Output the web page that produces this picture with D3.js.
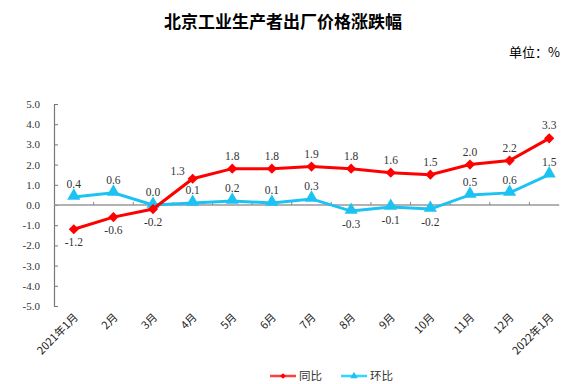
<!DOCTYPE html>
<html lang="zh">
<head>
	<meta charset="utf-8">
	<title>北京工业生产者出厂价格涨跌幅</title>
	<script src="https://d3js.org/d3.v7.min.js"></script>
	<style>
		body { margin: 0; background: #fff; }
		text { font-family: "Liberation Serif", "Noto Sans CJK SC", serif; }
		.cjk { font-family: "Noto Sans CJK SC", sans-serif; }
	</style>
</head>
<body>
<script>
	// chart data
	var months = ["2021年1月", "2月", "3月", "4月", "5月", "6月", "7月", "8月", "9月", "10月", "11月", "12月", "2022年1月"];
	var yoy = [-1.2, -0.6, -0.2, 1.3, 1.8, 1.8, 1.9, 1.8, 1.6, 1.5, 2.0, 2.2, 3.3];   // 同比
	var mom = [0.4, 0.6, 0.0, 0.1, 0.2, 0.1, 0.3, -0.3, -0.1, -0.2, 0.5, 0.6, 1.5];   // 环比
	var yTicks = [5, 4, 3, 2, 1, 0, -1, -2, -3, -4, -5];

	var w = 586, h = 384;
	var svg = d3.select("body").append("svg")
		.attr("width", w)
		.attr("height", h);

	// scales
	var x = d3.scaleBand()
		.domain(months)
		.range([54, 569]);
	var y = d3.scaleLinear()
		.domain([-5, 5])
		.range([306, 104]);
	function cx(d, i) { return x(months[i]) + x.bandwidth() / 2; }

	// title
	svg.append("text")
		.attr("class", "cjk")
		.attr("x", 283)
		.attr("y", 28)
		.attr("text-anchor", "middle")
		.attr("font-size", 17)
		.attr("font-weight", "bold")
		.attr("fill", "#000")
		.text("北京工业生产者出厂价格涨跌幅");

	svg.append("text")
		.attr("class", "cjk")
		.attr("x", 560)
		.attr("y", 57)
		.attr("text-anchor", "end")
		.attr("font-size", 13)
		.attr("fill", "#000")
		.text("单位：%");

	// y axis
	var yAxis = svg.append("g")
		.attr("transform", "translate(54,0)")
		.call(d3.axisRight(y).tickValues(yTicks).tickSize(4).tickFormat(""));
	yAxis.select(".domain").attr("stroke", "#777").attr("stroke-width", 1.2);
	yAxis.selectAll(".tick line").attr("stroke", "#777");

	svg.selectAll(".ylab")
		.data(yTicks)
		.enter()
		.append("text")
		.attr("class", "ylab")
		.attr("x", 40)
		.attr("y", function(d) { return y(d) + 4; })
		.attr("text-anchor", "end")
		.attr("font-size", 11)
		.attr("fill", "#333")
		.attr("font-family", "'Liberation Mono', monospace")
		.text(function(d) { return d3.format(".1f")(d).replace("−", "-"); });

	// zero line with category ticks
	var lastX = cx(null, months.length - 1) + 10;
	svg.append("line")
		.attr("x1", 54).attr("x2", lastX)
		.attr("y1", y(0)).attr("y2", y(0))
		.attr("stroke", "#999")
		.attr("stroke-width", 1.5);
	svg.selectAll(".xtick")
		.data(months.slice(1))
		.enter()
		.append("line")
		.attr("class", "xtick")
		.attr("x1", function(d) { return x(d); })
		.attr("x2", function(d) { return x(d); })
		.attr("y1", y(0) - 3)
		.attr("y2", y(0))
		.attr("stroke", "#888");

	// x labels
	svg.selectAll(".xlab")
		.data(months)
		.enter()
		.append("text")
		.attr("class", "xlab cjk")
		.attr("text-anchor", "end")
		.attr("font-size", 11)
		.attr("fill", "#222")
		.attr("transform", function(d, i) {
			return "translate(" + (cx(d, i) + 5) + ",318) rotate(-45)";
		})
		.text(function(d) { return d; });

	var line = d3.line()
		.x(function(d, i) { return cx(d, i); })
		.y(function(d) { return y(d); });

	var red = "#ff0000", blue = "#1cc3f2";

	// 环比 series
	svg.append("path")
		.datum(mom)
		.attr("d", line)
		.attr("fill", "none")
		.attr("stroke", blue)
		.attr("stroke-width", 3);
	svg.selectAll(".tri")
		.data(mom)
		.enter()
		.append("path")
		.attr("class", "tri")
		.attr("d", d3.symbol().type(d3.symbolTriangle).size(75))
		.attr("transform", function(d, i) { return "translate(" + cx(d, i) + "," + (y(d) - 1) + ")"; })
		.attr("fill", blue);

	// 同比 series
	svg.append("path")
		.datum(yoy)
		.attr("d", line)
		.attr("fill", "none")
		.attr("stroke", red)
		.attr("stroke-width", 3);
	svg.selectAll(".dia")
		.data(yoy)
		.enter()
		.append("path")
		.attr("class", "dia")
		.attr("d", d3.symbol().type(d3.symbolSquare).size(52))
		.attr("transform", function(d, i) { return "translate(" + cx(d, i) + "," + y(d) + ") rotate(45)"; })
		.attr("fill", red);

	// value labels
	function addLabels(data, cls) {
		svg.selectAll("." + cls)
			.data(data)
			.enter()
			.append("text")
			.attr("class", cls)
			.attr("text-anchor", "middle")
			.attr("font-size", 11.5)
			.attr("fill", "#333")
			.attr("x", function(d, i) {
				if (cls === "lyoy" && i === 3) return cx(d, i) - 15;
				return cx(d, i);
			})
			.attr("y", function(d, i) {
				if (d < 0) return y(d) + 17;
				if (cls === "lyoy" && i === 3) return y(d) - 4;
				return y(d) - 9;
			})
			.text(function(d) { return d3.format(".1f")(d).replace("−", "-"); });
	}
	addLabels(yoy, "lyoy");
	addLabels(mom, "lmom");

	// legend
	var legend = [
		{ name: "同比", color: "#ff4040", x: 270 },
		{ name: "环比", color: "#33d6ff", x: 341 }
	];
	var lg = svg.selectAll(".lg")
		.data(legend)
		.enter()
		.append("g")
		.attr("class", "lg")
		.attr("transform", function(d) { return "translate(" + d.x + ",376)"; });
	lg.append("line")
		.attr("x1", 0).attr("x2", 26)
		.attr("stroke", function(d) { return d.color; })
		.attr("stroke-width", 2.5);
	lg.append("path")
		.attr("d", function(d, i) {
			return i === 0 ? d3.symbol().type(d3.symbolSquare).size(16)() : d3.symbol().type(d3.symbolTriangle).size(24)();
		})
		.attr("transform", function(d, i) { return i === 0 ? "translate(13,0) rotate(45)" : "translate(13,0)"; })
		.attr("fill", function(d, i) { return i === 0 ? "#ff0000" : "#1cc3f2"; });
	lg.append("text")
		.attr("class", "cjk")
		.attr("x", 29)
		.attr("y", 4)
		.attr("font-size", 11.5)
		.attr("fill", "#333")
		.text(function(d) { return d.name; });
</script>
</body>
</html>
